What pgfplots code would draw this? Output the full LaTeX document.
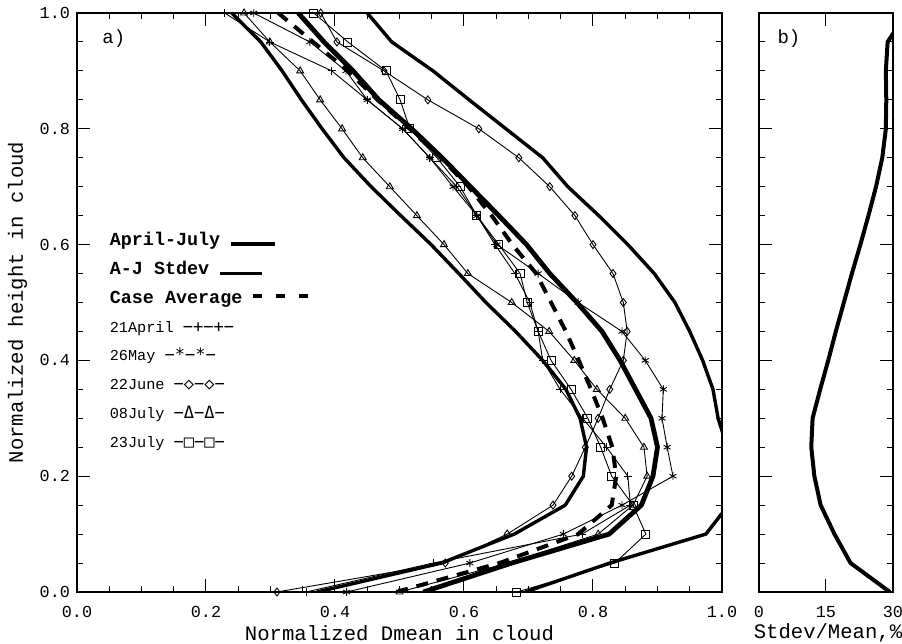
\documentclass[border=0pt]{standalone}
\usepackage{fontspec}
\setmainfont{Liberation Mono}
\newfontfamily\symf{DejaVu Sans Mono}
\usepackage{pgfplots}
\pgfplotsset{compat=1.18}

\pgfplotsset{
  panel/.style={
    scale only axis, height=289.5pt, anchor=south west,
    ymin=0, ymax=1,
    ytick={0,0.2,0.4,0.6,0.8,1},
    minor y tick num=3,
    major tick length=6.5pt, minor tick length=3pt,
    every tick/.style={black, line width=0.5pt},
    axis line style={line width=0.6pt},
    tick label style={font=\fontsize{8.4}{9}\selectfont},
    xticklabel style={yshift=-3.5pt},
    label style={font=\fontsize{10.3}{12}\selectfont},
    xlabel style={at={(axis description cs:0.5,-0.071)}, anchor=center},
  },
  case/.style={black, line width=0.45pt, mark size=2pt,
    mark options={solid, line width=0.45pt}},
}

\begin{document}
\begin{tikzpicture}
% fixes the page to the reference proportions
\useasboundingbox (-38.5pt,-26pt) rectangle (412.5pt,296pt);

\begin{axis}[panel, at={(0pt,0pt)}, width=322.5pt,
  xmin=0, xmax=1,
  xtick={0,0.2,0.4,0.6,0.8,1}, xticklabels={0.0,0.2,0.4,0.6,0.8,1.0},
  yticklabels={0.0,0.2,0.4,0.6,0.8,1.0},
  minor x tick num=3,
  xlabel={Normalized Dmean in cloud},
  ylabel={Normalized height in cloud},
  ylabel style={at={(axis description cs:-0.092,0.5)}, anchor=center},
]
% 21April
\addplot[case, mark=+] coordinates {
(0.355,0.00) (0.552,0.05) (0.783,0.10) (0.858,0.15) (0.854,0.20) (0.821,0.25)
(0.784,0.30) (0.749,0.35) (0.722,0.40) (0.715,0.45) (0.702,0.50) (0.679,0.55)
(0.648,0.60) (0.620,0.65) (0.589,0.70) (0.547,0.75) (0.505,0.80) (0.450,0.85)
(0.395,0.90) (0.299,0.95) (0.229,1.00)};
% 26May
\addplot[case, mark=asterisk] coordinates {
(0.418,0.00) (0.609,0.05) (0.754,0.10) (0.845,0.15) (0.924,0.20) (0.915,0.25)
(0.907,0.30) (0.909,0.35) (0.881,0.40) (0.845,0.45) (0.777,0.50) (0.715,0.55)
(0.651,0.60) (0.620,0.65) (0.583,0.70) (0.547,0.75) (0.505,0.80) (0.450,0.85)
(0.417,0.90) (0.361,0.95) (0.274,1.00)};
% 22June
\addplot[case, mark=diamond] coordinates {
(0.310,0.00) (0.571,0.05) (0.667,0.10) (0.738,0.15) (0.767,0.20) (0.788,0.25)
(0.808,0.30) (0.826,0.35) (0.847,0.40) (0.853,0.45) (0.847,0.50) (0.831,0.55)
(0.800,0.60) (0.772,0.65) (0.733,0.70) (0.685,0.75) (0.623,0.80) (0.544,0.85)
(0.476,0.90) (0.403,0.95) (0.378,1.00)};
% 08July
\addplot[case, mark=triangle] coordinates {
(0.500,0.00) (0.668,0.05) (0.808,0.10) (0.862,0.15) (0.884,0.20) (0.879,0.25)
(0.850,0.30) (0.806,0.35) (0.771,0.40) (0.732,0.45) (0.674,0.50) (0.606,0.55)
(0.569,0.60) (0.527,0.65) (0.485,0.70) (0.443,0.75) (0.411,0.80) (0.377,0.85)
(0.346,0.90) (0.299,0.95) (0.259,1.00)};
% 23July
\addplot[case, mark=square] coordinates {
(0.682,0.00) (0.834,0.05) (0.882,0.10) (0.862,0.15) (0.829,0.20) (0.812,0.25)
(0.792,0.30) (0.766,0.35) (0.735,0.40) (0.715,0.45) (0.698,0.50) (0.687,0.55)
(0.654,0.60) (0.620,0.65) (0.594,0.70) (0.558,0.75) (0.516,0.80) (0.501,0.85)
(0.479,0.90) (0.420,0.95) (0.367,1.00)};
% Case average
\addplot[black, line width=2pt, dash pattern=on 6pt off 4.5pt] coordinates {
(0.495,0.00) (0.655,0.05) (0.777,0.10) (0.829,0.15) (0.836,0.20) (0.830,0.25)
(0.815,0.30) (0.797,0.35) (0.778,0.40) (0.758,0.45) (0.735,0.50) (0.712,0.55)
(0.675,0.60) (0.643,0.65) (0.607,0.70) (0.564,0.75) (0.516,0.80) (0.466,0.85)
(0.420,0.90) (0.366,0.95) (0.312,1.00)};
% A-J stdev, lower
\addplot[black, line width=1.7pt, line join=round] coordinates {
(0.372,0.00) (0.565,0.05) (0.678,0.10) (0.757,0.15) (0.785,0.20) (0.790,0.25)
(0.780,0.30) (0.758,0.35) (0.722,0.40) (0.680,0.45) (0.634,0.50) (0.592,0.55)
(0.549,0.60) (0.502,0.65) (0.456,0.70) (0.414,0.75) (0.380,0.80) (0.348,0.85)
(0.318,0.90) (0.285,0.95) (0.240,1.00)};
% A-J stdev, upper
\addplot[black, line width=1.7pt, line join=round] coordinates {
(0.695,0.00) (0.826,0.05) (0.975,0.10) (1.010,0.15) (1.020,0.20) (1.008,0.25)
(0.994,0.30) (0.986,0.35) (0.970,0.40) (0.950,0.45) (0.927,0.50) (0.895,0.55)
(0.854,0.60) (0.809,0.65) (0.761,0.70) (0.722,0.75) (0.665,0.80) (0.608,0.85)
(0.552,0.90) (0.488,0.95) (0.450,1.00)};
% April-July mean
\addplot[black, line width=2.4pt, line join=round] coordinates {
(0.537,0.00) (0.674,0.05) (0.825,0.10) (0.875,0.15) (0.893,0.20) (0.900,0.25)
(0.890,0.30) (0.866,0.35) (0.842,0.40) (0.814,0.45) (0.775,0.50) (0.733,0.55)
(0.697,0.60) (0.654,0.65) (0.610,0.70) (0.566,0.75) (0.519,0.80) (0.468,0.85)
(0.428,0.90) (0.383,0.95) (0.343,1.00)};

\node[font=\fontsize{9.5}{10}\selectfont] at (axis cs:0.057,0.955) {a)};
\node[anchor=base west, font=\fontsize{9.2}{10}\selectfont\bfseries] at (axis cs:0.040,0.598)
  {April-July \rule{22pt}{2pt}};
\node[anchor=base west, font=\fontsize{9.2}{10}\selectfont\bfseries] at (axis cs:0.040,0.548)
  {A-J Stdev \rule{21pt}{1.6pt}};
\node[anchor=base west, font=\fontsize{9.2}{10}\selectfont\bfseries] at (axis cs:0.040,0.499)
  {Case Average \rule[2.5pt]{4.5pt}{1.8pt}\hspace{7pt}\rule[2.5pt]{4.5pt}{1.8pt}\hspace{7pt}\rule[2.5pt]{4.5pt}{1.8pt}};
\node[anchor=base west, font=\fontsize{7.6}{9}\selectfont] at (axis cs:0.040,0.449)
  {21April {\symf\fontsize{8.5}{9}\selectfont −+−+−}};
\node[anchor=base west, font=\fontsize{7.6}{9}\selectfont] at (axis cs:0.040,0.400)
  {26May {\symf\fontsize{8.5}{9}\selectfont −*−*−}};
\node[anchor=base west, font=\fontsize{7.6}{9}\selectfont] at (axis cs:0.040,0.350)
  {22June {\symf\fontsize{8.5}{9}\selectfont −◇−◇−}};
\node[anchor=base west, font=\fontsize{7.6}{9}\selectfont] at (axis cs:0.040,0.300)
  {08July {\symf\fontsize{8.5}{9}\selectfont −Δ−Δ−}};
\node[anchor=base west, font=\fontsize{7.6}{9}\selectfont] at (axis cs:0.040,0.250)
  {23July {\symf\fontsize{8.5}{9}\selectfont −□−□−}};
\end{axis}

\begin{axis}[panel, at={(341pt,0pt)}, width=67pt,
  xmin=0, xmax=30,
  xtick={0,15,30}, xticklabels={0,15,30},
  yticklabels={},
  xlabel={Stdev/Mean,\%},
  xlabel style={at={(axis description cs:0.515,-0.071)}, anchor=center},
]
\addplot[black, line width=2pt, line join=round] coordinates {
(29.3,0.00) (20.5,0.05) (16.9,0.10) (13.8,0.15) (12.4,0.20) (11.7,0.25)
(12.0,0.30) (13.7,0.35) (15.5,0.40) (17.2,0.45) (19.0,0.50) (20.8,0.55)
(22.7,0.60) (24.5,0.65) (26.2,0.70) (27.6,0.75) (28.4,0.80) (28.5,0.85)
(28.4,0.90) (28.8,0.95) (33.0,1.00)};
\node[font=\fontsize{9.5}{10}\selectfont] at (axis cs:6.7,0.955) {b)};
\end{axis}
\end{tikzpicture}
\end{document}
